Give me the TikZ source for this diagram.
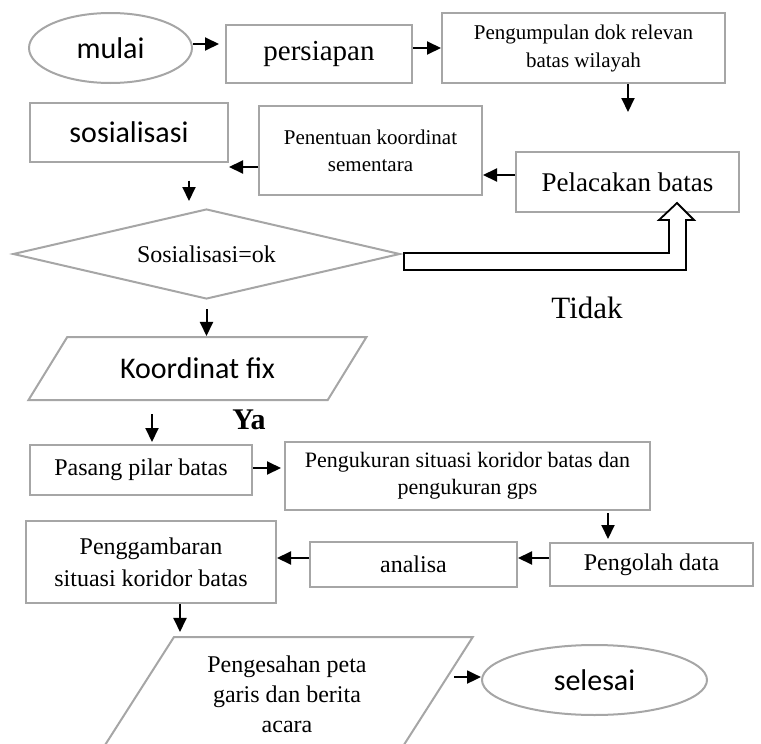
\documentclass[tikz,border=0pt]{standalone}
\usepackage{fontspec}
\setmainfont{Liberation Serif}
\newfontfamily\calibri{Carlito}
\usepackage{tikz}
\usetikzlibrary{shapes.geometric,arrows.meta}
\definecolor{boxgray}{RGB}{166,166,166}
\newcommand{\setfs}[2]{\fontsize{#1}{#2}\selectfont}

\begin{document}
\begin{tikzpicture}[
    x=1pt, y=-1pt,
    box/.style={rectangle, draw=boxgray, line width=2pt, inner sep=0pt, align=center},
    term/.style={ellipse, draw=boxgray, line width=2pt, inner sep=0pt, font=\calibri\setfs{30}{36}},
    io/.style={trapezium, trapezium stretches=true, draw=boxgray, line width=2pt, inner sep=0pt, align=center},
    decide/.style={diamond, aspect=4.3, draw=boxgray, line width=2pt, inner sep=0pt},
    arr/.style={-{Triangle[length=14pt, width=13pt]}, line width=2pt},
    block/.style={draw=black, fill=white, line width=1.8pt}
]
\useasboundingbox (0,0) rectangle (761,744);
\clip (0,0) rectangle (761,744);

\node[term, minimum width=163pt, minimum height=70pt] (mulai) at (110.5,48) {mulai};
\node[box, minimum width=186pt, minimum height=58pt, font=\setfs{29}{34}] (persiapan) at (319,54) {persiapan};
\node[box, minimum width=283pt, minimum height=70pt, font=\setfs{21}{28}] (kumpul) at (583.5,48) {Pengumpulan dok relevan\\batas wilayah};
\node[box, minimum width=223pt, minimum height=60pt, font=\setfs{27}{32}] (lacak) at (627.5,182) {Pelacakan batas};
\node[box, minimum width=223pt, minimum height=89pt, font=\setfs{21}{27}] (tentu) at (370.5,150.5) {Penentuan koordinat\\sementara};
\node[box, minimum width=198pt, minimum height=59pt, font=\calibri\setfs{30}{36}] (sosial) at (129,132.5) {sosialisasi};
\node[decide, minimum width=387pt, minimum height=90pt, font=\setfs{24}{28}] (cek) at (206.5,254) {\raisebox{-4pt}{Sosialisasi=ok}};
\node[io, minimum width=339pt, minimum height=63pt, trapezium left angle=42.4, trapezium right angle=137.6, font=\calibri\setfs{30}{36}] (fix) at (197.5,368.5) {Koordinat fix};
\node[box, minimum width=222pt, minimum height=50pt, font=\setfs{24}{28}] (pilar) at (141,470) {Pasang pilar batas};
\node[box, minimum width=365pt, minimum height=68pt, font=\setfs{22}{27}] (ukur) at (467.5,476) {Pengukuran situasi koridor batas dan\\pengukuran gps};
\node[box, minimum width=203pt, minimum height=43pt, font=\setfs{24}{28}] (olah) at (651.5,564.5) {Pengolah data};
\node[box, minimum width=207pt, minimum height=45pt, font=\setfs{24}{28}] (analisa) at (413.5,564.5) {analisa};
\node[box, minimum width=250pt, minimum height=82pt, font=\setfs{24}{32}] (gambar) at (151,562) {Penggambaran\\situasi koridor batas};
\node[io, minimum width=372pt, minimum height=114pt, trapezium left angle=56.3, trapezium right angle=123.7, font=\setfs{24}{30}] (sah) at (287,694) {Pengesahan peta\\garis dan berita\\acara};
\node[term, minimum width=225pt, minimum height=70pt] (selesai) at (594.5,680) {selesai};
\node[font=\setfs{31}{36}] (tidak) at (587,308) {Tidak};
\node[font=\bfseries\setfs{30}{36}] (ya) at (249,420) {Ya};

\foreach \a/\b/\s/\g in {mulai/persiapan/4/6, persiapan/kumpul/6/0, pilar/ukur/2/3}
  \draw[arr, shorten >=\g pt] ([yshift=\s pt]\a.east) -- ([yshift=\s pt]\a.east -| \b.west);
\foreach \a/\b/\s in {lacak/tentu/7, tentu/sosial/-16.5, olah/analisa/6.5, analisa/gambar/6.5}
  \draw[arr] ([yshift=\s pt]\a.west) -- ([yshift=\s pt]\a.west -| \b.east);

\draw[arr, shorten >=39pt] ([xshift=44.5pt]kumpul.south) -- ([xshift=44.5pt]kumpul.south |- lacak.north);
\draw[arr, shorten <=17.5pt, shorten >=7pt] ([xshift=60pt]sosial.south) -- ([xshift=60pt]sosial.south |- cek.north);
\draw[arr, shorten <=9pt] (cek.south) -- (cek.south |- fix.north);
\draw[arr, shorten <=13pt, shorten >=2pt] ([xshift=11pt]pilar.north |- fix.south) -- ([xshift=11pt]pilar.north);
\draw[arr, shorten <=2pt, shorten >=3pt] ([xshift=140.5pt]ukur.south) -- ([xshift=140.5pt]ukur.south |- olah.north);
\draw[arr, shorten >=4pt] ([xshift=29pt]gambar.south) -- ([xshift=29pt]gambar.south |- sah.north);
\draw[arr, shorten <=6pt] (sah.6) -- (sah.6 -| selesai.west);

\draw[block] ([shift={(3,-1)}]cek.east) -- ++(265,0) -- ++(0,-33) -- ++(-10,0) -- ++(18,-17)
  -- ++(17,17) -- ++(-8,0) -- ++(0,50) -- ++(-282,0) -- cycle;
\end{tikzpicture}
\end{document}
